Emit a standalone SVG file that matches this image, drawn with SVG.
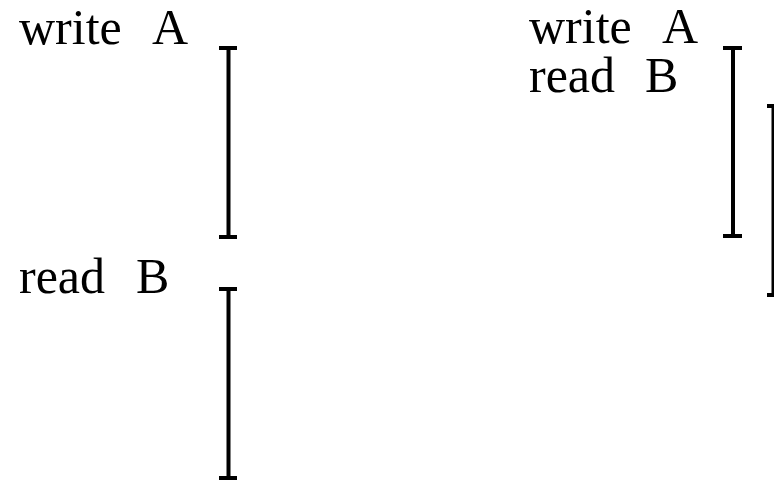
<svg xmlns="http://www.w3.org/2000/svg" width="774" height="480" viewBox="0 0 774 480">
<style>
text{font-family:"Liberation Serif","Times New Roman",serif;font-size:50px;fill:#000}
.b{stroke:#000;stroke-width:4;fill:none}
</style>
<rect width="774" height="480" fill="#fff"/>
<g id="left-labels">
<text x="19" y="44">write<tspan x="152">A</tspan></text>
<text x="19" y="293">read<tspan x="136">B</tspan></text>
</g>
<g id="right-labels">
<text x="529" y="43">write<tspan x="662">A</tspan></text>
<text x="529" y="92">read<tspan x="645">B</tspan></text>
</g>
<g id="connectors">
<path class="b" d="M219 48H237M228.5 48V237M219 237H237"/>
<path class="b" d="M219 289H237M228.5 289V478M219 478H237"/>
<path class="b" d="M723 48H742M733 48V236M723 236H742"/>
<path class="b" d="M767 106H786M773.5 106V295M767 295H786"/>
</g>
</svg>
